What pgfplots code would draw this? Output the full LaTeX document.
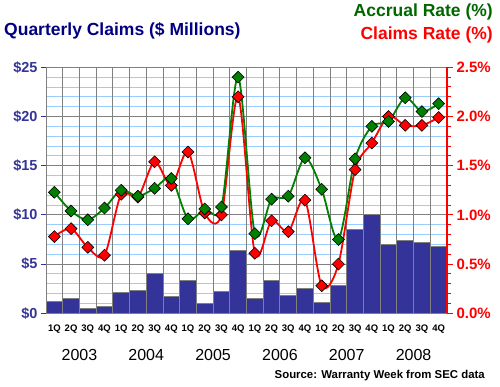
\documentclass[border=0pt]{standalone}
\usepackage{pgfplots}
\usepackage{pgfplotstable}
\pgfplotsset{compat=1.18}
\usepackage{fontspec}
\setmainfont{Liberation Sans}
\definecolor{barblue}{RGB}{51,51,153}
\definecolor{navy}{RGB}{0,0,128}
\definecolor{gline}{RGB}{0,128,0}
\definecolor{gtitle}{RGB}{0,102,0}
\definecolor{gridblue}{RGB}{153,204,255}
\definecolor{gridgray}{RGB}{128,128,128}

\pgfplotstableread{
q claims accrual rate
1 1.24 1.23 0.78
2 1.47 1.04 0.86
3 0.53 0.95 0.67
4 0.66 1.07 0.59
5 2.15 1.25 1.21
6 2.28 1.19 1.18
7 4.08 1.27 1.54
8 1.68 1.37 1.30
9 3.30 0.96 1.64
10 0.96 1.06 1.02
11 2.18 1.08 1.00
12 6.35 2.40 2.20
13 1.54 0.81 0.61
14 3.37 1.16 0.94
15 1.85 1.19 0.83
16 2.56 1.58 1.15
17 1.14 1.26 0.28
18 2.86 0.75 0.50
19 8.55 1.57 1.46
20 10.00 1.90 1.73
21 7.03 1.95 2.00
22 7.36 2.19 1.91
23 7.16 2.05 1.91
24 6.75 2.13 1.99
}\data

\begin{document}
\begin{tikzpicture}[x=1pt,y=1pt]
\begin{axis}[
  name=main, scale only axis,
  width=401pt, height=246pt,
  xmin=0.5, xmax=24.5, ymin=0, ymax=25,
  clip=false,
  axis y line*=left, axis x line*=bottom,
  x axis line style={-, barblue, line width=1pt},
  y axis line style={-, barblue, line width=1pt},
  xtick={1,...,24},
  xticklabels={1Q,2Q,3Q,4Q,1Q,2Q,3Q,4Q,1Q,2Q,3Q,4Q,1Q,2Q,3Q,4Q,1Q,2Q,3Q,4Q,1Q,2Q,3Q,4Q},
  xticklabel style={font=\bfseries\fontsize{9.5}{10}\selectfont, anchor=north, yshift=-3pt},
  x tick style={draw=none},
  extra x ticks={0.5,1.5,...,24.5},
  extra x tick labels={},
  extra x tick style={grid=major, tick align=outside, major tick length=5pt,
     tick style={draw=gridgray, line width=0.9pt}},
  ytick={0,5,...,25},
  yticklabels={\$0,\$5,\$10,\$15,\$20,\$25},
  minor ytick={1,2,3,4,6,7,8,9,11,12,13,14,16,17,18,19,21,22,23,24},
  ymajorgrids, yminorgrids,
  major grid style={gridgray, line width=0.9pt},
  minor grid style={gridblue, line width=0.9pt},
  y tick style={barblue, line width=1pt},
  tick align=outside, major tick length=5pt, minor tick length=0pt,
  yticklabel style={font=\bfseries\fontsize{14.5}{15}\selectfont, text=barblue},
]
\addplot[ybar, bar width=1, fill=barblue, draw=gridgray, line width=0.9pt] table[x=q,y=claims]{\data};
\node[font=\fontsize{16}{16}\selectfont] at (axis cs:2.5,0) [yshift=-41.7pt] {2003};
\node[font=\fontsize{16}{16}\selectfont] at (axis cs:6.5,0) [yshift=-41.7pt] {2004};
\node[font=\fontsize{16}{16}\selectfont] at (axis cs:10.5,0) [yshift=-41.7pt] {2005};
\node[font=\fontsize{16}{16}\selectfont] at (axis cs:14.5,0) [yshift=-41.7pt] {2006};
\node[font=\fontsize{16}{16}\selectfont] at (axis cs:18.5,0) [yshift=-41.7pt] {2007};
\node[font=\fontsize{16}{16}\selectfont] at (axis cs:22.5,0) [yshift=-41.7pt] {2008};
\end{axis}
\begin{axis}[
  at={(main.south west)}, anchor=south west, scale only axis,
  width=401pt, height=246pt,
  xmin=0.5, xmax=24.5, ymin=0, ymax=2.5,
  clip=false,
  axis y line*=right, axis x line=none,
  y axis line style={-, red, line width=1.2pt},
  ytick={0,0.5,...,2.5},
  yticklabels={0.0\%,0.5\%,1.0\%,1.5\%,2.0\%,2.5\%},
  minor ytick={0.1,0.2,0.3,0.4,0.6,0.7,0.8,0.9,1.1,1.2,1.3,1.4,1.6,1.7,1.8,1.9,2.1,2.2,2.3,2.4},
  y tick style={red, line width=1pt},
  tick align=outside, major tick length=6pt, minor tick length=4pt,
  yticklabel style={font=\bfseries\fontsize{15}{15}\selectfont, text=red},
]
\addplot[red, line width=1.8pt, smooth, mark=square*, mark size=4.2pt,
  mark options={rotate=45, fill=red, draw=black, line width=0.6pt, solid}]
  table[x=q,y=rate]{\data};
\addplot[gline, line width=1.8pt, smooth, mark=square*, mark size=4.2pt,
  mark options={rotate=45, fill=gline, draw=black, line width=0.6pt, solid}]
  table[x=q,y=accrual]{\data};
\end{axis}
\path (main.south west) ++(-46,-73.7) coordinate (O);
\begin{scope}[shift={(O)}]
\node[anchor=west, font=\bfseries\fontsize{17.5}{18}\selectfont, text=navy, inner sep=0pt] at (4,356.3) {Quarterly Claims (\$ Millions)};
\node[anchor=east, font=\bfseries\fontsize{17.5}{18}\selectfont, text=gtitle, inner sep=0pt] at (493,374.7) {Accrual Rate (\%)};
\node[anchor=east, font=\bfseries\fontsize{17.5}{18}\selectfont, text=red, inner sep=0pt] at (493,352) {Claims Rate (\%)};
\node[anchor=east, font=\bfseries\fontsize{11.4}{12}\selectfont, inner sep=0pt] at (485,11.7) {Source: Warranty Week from SEC data};
\end{scope}
\pgfresetboundingbox
\path[use as bounding box] (O) rectangle ++(500,387);
\end{tikzpicture}
\end{document}
